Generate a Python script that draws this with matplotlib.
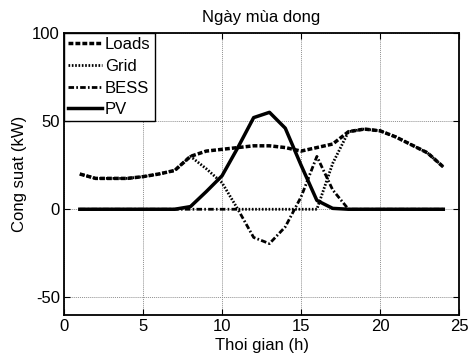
import matplotlib
matplotlib.use("Agg")
import matplotlib.pyplot as plt
import numpy as np

plt.rcParams["font.family"] = ["Liberation Sans", "DejaVu Sans"]
plt.rcParams["axes.unicode_minus"] = False

# hours of the day
hours = list(range(1, 25))

# power (kW)
loads = [20, 17.5, 17.5, 17.5, 18.5, 20, 22, 30, 33, 34, 35, 36,
         36, 35, 33, 35, 37, 44, 45.5, 44.5, 41, 36.5, 32, 24]
grid = [20, 17.5, 17.5, 17.5, 18.5, 20, 22, 30, 23, 15, 0, 0,
        0, 0, 0, 0, 26, 44, 45.5, 44.5, 41, 36.5, 32, 24]
bess = [0, 0, 0, 0, 0, 0, 0, 0, 0, 0, 0, -16,
        -19.5, -10, 7, 30, 11, 0, 0, 0, 0, 0, 0, 0]
pv = [0, 0, 0, 0, 0, 0, 0, 1.5, 10, 19, 35, 52,
      55, 46, 25, 5, 0.5, 0, 0, 0, 0, 0, 0, 0]

fig = plt.figure(figsize=(4.68, 3.55), dpi=100)
ax = fig.add_axes([0.1368, 0.1127, 0.8442, 0.7943])

ax.plot(hours, loads, color="black", lw=2.5, ls=(0, (1.4, 0.6)), label="Loads")
ax.plot(hours, grid, color="black", lw=2.0, ls=(0, (0.6, 0.6)), label="Grid")
ax.plot(hours, bess, color="black", lw=2.0, ls=(0, (2.0, 0.8, 0.6, 0.8)), label="BESS")
ax.plot(hours, pv, color="black", lw=2.5, ls="-", label="PV")

ax.set_xlim(0, 25)
ax.set_ylim(-60, 100)
ax.set_xticks([0, 5, 10, 15, 20, 25])
ax.set_yticks([-50, 0, 50, 100])
ax.grid(True, color="#909090", ls=(0, (1, 1)), lw=0.7)
ax.tick_params(direction="in", length=4, labelsize=12, top=True, right=True,
               color="black", width=0.8, pad=3)
for s in ax.spines.values():
    s.set_linewidth(1.3)

ax.set_title("Ngày mùa dong", fontsize=12, pad=8)
ax.set_xlabel("Thoi gian (h)", fontsize=12, labelpad=3)
ax.set_ylabel("Cong suat (kW)", fontsize=12, labelpad=4)

leg = ax.legend(loc="upper left", fontsize=12, handlelength=2.0, handletextpad=0.2,
                borderaxespad=0, borderpad=0.25, labelspacing=0.4, fancybox=False,
                framealpha=1, edgecolor="black")
leg.get_frame().set_linewidth(1.0)

fig.savefig("out.png", dpi=100)
